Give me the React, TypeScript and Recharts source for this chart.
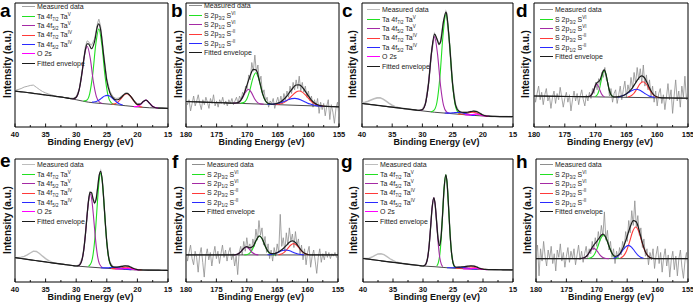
import React from 'react';
import { LineChart, Line, XAxis, YAxis, ReferenceArea } from 'recharts';

type Pt = [number, number];

// axis ticks
const TA_TICKS = [40, 35, 30, 25, 20, 15];
const TA_MINOR = [37.5, 32.5, 27.5, 22.5, 17.5];
const S_TICKS = [180, 175, 170, 165, 160, 155];
const S_MINOR = [177.5, 172.5, 167.5, 162.5, 157.5];

// ---------- panel a (Ta 4f) ----------
const aBg: Pt[] = [[40, 29], [38, 27.8], [36, 26.5], [34, 25.2], [32, 23.8], [30, 22], [28, 20], [26, 19], [24, 18.2], [22, 17.2], [20, 16.2], [18, 15.5], [16, 15.2], [15, 15]];
const aMeasured: Pt[] = [[40, 29.5], [39.5, 30.2], [39, 31], [38.5, 32.2], [38, 32.8], [37.5, 33.5], [37, 33.8], [36.5, 32], [36, 30.2], [35.5, 28.6], [35, 27.5], [34.5, 26.6], [34, 25.9], [33.5, 25], [33, 24.6], [32.5, 24.2], [32, 23.9], [31.5, 23.5], [31, 23.3], [30.5, 23.2], [30, 24.5], [29.5, 31], [29, 47], [28.5, 65], [28.2, 69.5], [28, 69], [27.75, 67], [27.5, 66], [27, 71], [26.5, 84], [26.3, 87], [26, 81], [25.5, 59], [25, 39], [24.5, 29], [24, 24.5], [23.5, 23], [23, 23.4], [22.5, 25.3], [22, 27.5], [21.5, 27.4], [21, 24.6], [20.5, 21.3], [20, 19], [19.5, 19], [19, 21], [18.5, 21.6], [18, 19.2], [17.5, 16.6], [17, 15.6], [16.5, 15.3], [16, 15.2], [15.5, 15.1], [15, 15]];
const aEnvelope: Pt[] = [[40, 29], [39, 28.4], [38, 27.8], [37, 27.1], [36, 26.5], [35, 25.8], [34, 25.2], [33, 24.5], [32, 23.8], [31, 23], [30.5, 22.8], [30, 24], [29.5, 30.3], [29, 45.4], [28.5, 62.4], [28.2, 67], [28, 67], [27.5, 63.1], [27, 68.9], [26.5, 81.6], [26.3, 83.1], [26, 78.2], [25.5, 57], [25, 37.4], [24.5, 27.6], [24, 23.6], [23.5, 21.9], [23, 22.4], [22.5, 24.6], [22, 26.8], [21.7, 27.1], [21.5, 26.7], [21, 24.1], [20.5, 20.6], [20, 18.3], [19.5, 18.45], [19, 20.7], [18.6, 21.65], [18.5, 21.5], [18, 19.1], [17.5, 16.5], [17, 15.5], [16.5, 15.25], [16, 15.2], [15, 15]];
const aGreen: Pt[] = [[28.8, 20.9], [28.3, 21.6], [27.8, 26.8], [27.3, 42.6], [26.8, 66.6], [26.3, 79.1], [25.8, 66.1], [25.3, 41.6], [24.8, 25.3], [24.3, 19.6], [23.8, 18.2]];
const aPurple: Pt[] = [[30.7, 22.8], [30.2, 23.1], [29.7, 26.8], [29.2, 38.3], [28.7, 56.1], [28.2, 65.1], [27.7, 55.3], [27.2, 36.7], [26.7, 24.5], [26.2, 20], [25.7, 18.9]];
const aRed: Pt[] = [[24.2, 18.3], [23.7, 18.7], [23.2, 20.1], [22.7, 22.75], [22.2, 25.7], [21.7, 26.85], [21.2, 25.2], [20.7, 21.75], [20.2, 18.6], [19.7, 16.8], [19.2, 16]];
const aBlue: Pt[] = [[27.4, 20.1], [26.9, 20.3], [26.4, 21.4], [25.9, 23.1], [25.4, 24.9], [24.9, 25.5], [24.4, 24.5], [23.9, 22.4], [23.4, 20.2], [22.9, 18.6], [22.4, 17.7]];
const aMagenta: Pt[] = [[20.6, 16.4], [20.1, 16.45], [19.6, 17.5], [19.1, 20.05], [18.6, 21.65], [18.1, 19.7], [17.6, 16.95], [17.1, 15.65], [16.6, 15.25]];

// ---------- panel c (Ta 4f) ----------
const cBg: Pt[] = [[40, 19], [38, 17.8], [36, 16.6], [34, 15.4], [32, 14.2], [30, 13], [28, 11.9], [26, 11.1], [24, 10.3], [22, 9.5], [20, 8.9], [18, 8.5], [15, 8.3]];
const cMeasured: Pt[] = [[40, 19.5], [39.5, 20], [39, 20.8], [38.5, 21.8], [38, 22.8], [37.5, 23.5], [37, 23.6], [36.5, 22.5], [36, 20.8], [35.5, 19], [35, 17.6], [34.5, 16.4], [34, 15.7], [33.5, 15.1], [33, 14.8], [32.5, 14.5], [32, 14.2], [31.5, 13.9], [31, 13.6], [30.5, 13.4], [30, 14.1], [29.5, 18.9], [29, 34.5], [28.5, 59.8], [28, 74.8], [27.5, 69.6], [27.25, 66.8], [27, 68.4], [26.5, 85.2], [26.1, 92.8], [26, 91.5], [25.5, 66.6], [25, 34.8], [24.5, 17.7], [24, 12.9], [23.5, 11.9], [23, 11.7], [22.5, 11.9], [22, 12.4], [21.5, 12.8], [21, 12.4], [20.5, 11.1], [20, 9.8], [19.5, 9], [19, 8.8], [18.5, 8.6], [18, 8.5], [17, 8.4], [16, 8.35], [15, 8.3]];
const cEnvelope: Pt[] = [[40, 19], [39, 18.4], [38, 17.8], [37, 17.2], [36, 16.6], [35, 16], [34, 15.4], [33, 14.8], [32, 14.2], [31, 13.6], [30.5, 13.4], [30, 14], [29.5, 18.8], [29, 34.4], [28.5, 59.7], [28, 74.9], [27.5, 69.8], [27.25, 66.7], [27, 68.5], [26.5, 85.3], [26.1, 92.75], [26, 91.4], [25.5, 66.75], [25, 34.7], [24.5, 17.6], [24, 12.85], [23.5, 11.9], [23, 11.74], [22.5, 11.9], [22, 12.37], [21.5, 12.78], [21, 12.43], [20.5, 11.09], [20, 9.72], [19.5, 9.02], [19, 8.74], [18, 8.5], [17, 8.4], [16, 8.35], [15, 8.3]];
const cGreen: Pt[] = [[28.6, 12.2], [28.1, 13.35], [27.6, 19.75], [27.1, 40.35], [26.6, 73.35], [26.1, 91.15], [25.6, 72.95], [25.1, 39.55], [24.6, 18.55], [24.1, 11.75], [23.6, 10.3]];
const cPurple: Pt[] = [[30.5, 13.4], [30, 14], [29.5, 18.8], [29, 34.4], [28.5, 59.5], [28, 72.9], [27.5, 59], [27, 33.5], [26.5, 17.4], [26, 12.1], [25.5, 11]];
const cRed: Pt[] = [[24.1, 10.4], [23.6, 10.36], [23.1, 10.57], [22.6, 11.1], [22.1, 11.69], [21.6, 11.85], [21.1, 11.29], [20.6, 10.3], [20.1, 9.42], [19.6, 8.91], [19.1, 8.65]];
const cBlue: Pt[] = [[26.3, 11.27], [25.8, 11.2], [25.3, 11.29], [24.8, 11.51], [24.3, 11.72], [23.8, 11.7], [23.3, 11.32], [22.8, 10.71], [22.3, 10.09], [21.8, 9.6], [21.3, 9.37]];
const cMagenta: Pt[] = [[23, 9.9], [22.5, 9.75], [22, 9.8], [21.5, 10.2], [21, 10.4], [20.5, 9.9], [20, 9.2], [19.5, 8.85], [19, 8.7]];

// ---------- panel e (Ta 4f) ----------
const eBg: Pt[] = [[40, 19.8], [38, 18.4], [36, 17], [34, 15.6], [32, 14.3], [30, 13], [28, 12.2], [26, 11.5], [24, 10.8], [22, 10.2], [20, 9.8], [18, 9.6], [15, 9.5]];
const eMeasured: Pt[] = [[40, 19.9], [39.5, 19.8], [39, 20.1], [38.5, 20.8], [38, 22], [37.5, 23.6], [37, 25.1], [36.5, 24.8], [36, 23.2], [35.5, 21], [35, 19], [34.5, 17.4], [34, 16.2], [33.5, 15.4], [33, 15], [32.5, 14.6], [32, 14.3], [31.5, 13.9], [31, 13.6], [30.5, 13.3], [30, 13.1], [29.5, 13.8], [29, 19.4], [28.75, 26.9], [28.5, 38.6], [28.25, 53], [28, 65.8], [27.75, 73.2], [27.5, 72.9], [27.25, 67.5], [27, 64.4], [26.75, 67.4], [26.5, 76.8], [26.25, 86.9], [26, 90.3], [25.75, 83.1], [25.5, 67.4], [25.25, 48.3], [25, 32.6], [24.75, 21.8], [24.5, 16.1], [24, 12.5], [23.5, 12.2], [23, 12.4], [22.5, 12.8], [22, 13.2], [21.5, 13], [21, 11.9], [20.5, 10.8], [20, 10.2], [19.5, 9.9], [19, 9.8], [18, 9.7], [17, 9.6], [16, 9.55], [15, 9.5]];
const eEnvelope: Pt[] = [[40, 19.8], [39, 19.1], [38, 18.4], [37, 17.7], [36, 17], [35, 16.3], [34, 15.6], [33, 14.95], [32, 14.3], [31, 13.6], [30.5, 13.3], [30, 13], [29.5, 13.7], [29, 19.2], [28.75, 26.7], [28.5, 38.3], [28.25, 52.6], [28, 65.5], [27.75, 72.8], [27.5, 72.7], [27.25, 67.7], [27, 64.2], [26.75, 67.1], [26.5, 76.45], [26.25, 86.5], [26, 89.95], [25.75, 82.9], [25.5, 67.2], [25.25, 48.5], [25, 32.4], [24.75, 21.65], [24.5, 15.9], [24, 12.35], [23.5, 12.15], [23, 12.37], [22.5, 12.74], [22, 13.15], [21.5, 12.95], [21, 11.87], [20.5, 10.73], [20, 10.12], [19.5, 9.87], [19, 9.75], [18, 9.65], [17, 9.6], [16, 9.55], [15, 9.5]];
const eGreen: Pt[] = [[28, 12.6], [27.5, 16.2], [27.25, 22], [27, 32.7], [26.75, 48.7], [26.5, 67.25], [26.25, 82.6], [26, 88.5], [25.75, 82.4], [25.5, 66.9], [25.25, 48.2], [25, 32], [24.75, 21.1], [24.5, 15.15], [24, 11.2]];
const ePurple: Pt[] = [[29.7, 13], [29.2, 15.7], [28.95, 20.2], [28.7, 28.5], [28.45, 40.8], [28.2, 55.15], [27.95, 67], [27.7, 71.5], [27.45, 66.8], [27.2, 54.85], [26.95, 40.4], [26.7, 27.9], [26.45, 19.4], [26.2, 14.75], [25.7, 11.7]];
const eRed: Pt[] = [[24.3, 10.94], [23.8, 10.9], [23.3, 11.05], [22.8, 11.42], [22.3, 11.84], [21.8, 11.95], [21.3, 11.54], [20.8, 10.87], [20.3, 10.3], [19.8, 9.95], [19.3, 9.79]];
const eBlue: Pt[] = [[26, 11.55], [25.5, 11.46], [25, 11.49], [24.5, 11.68], [24, 11.86], [23.5, 11.85], [23, 11.56], [22.5, 11.08], [22, 10.59], [21.5, 10.26], [21, 10.05]];
const eMagenta: Pt[] = [[23.6, 10.7], [23.1, 10.59], [22.6, 10.65], [22.1, 10.96], [21.6, 11.1], [21.1, 10.71], [20.6, 10.15], [20.1, 9.9], [19.6, 9.8]];

// ---------- panel g (Ta 4f) ----------
const gBg: Pt[] = [[40, 19.2], [38, 17.9], [36, 16.6], [34, 15.4], [32, 14.2], [30, 13], [28, 12.4], [26, 11.6], [24, 11], [22, 10.5], [20, 10.2], [18, 10], [15, 9.8]];
const gMeasured: Pt[] = [[40, 19.3], [39.5, 19.1], [39, 19.4], [38.5, 20.3], [38, 21.6], [37.5, 22.8], [37, 23], [36.5, 22.2], [36, 20.6], [35.5, 18.9], [35, 17.5], [34.5, 16.4], [34, 15.7], [33.5, 15.2], [33, 14.9], [32.5, 14.5], [32, 14.2], [31.5, 13.9], [31, 13.6], [30.5, 13.3], [30, 13.1], [29.75, 13.5], [29.5, 14.9], [29.25, 19.3], [29, 28.6], [28.75, 43.5], [28.5, 59.6], [28.2, 68.8], [28, 64.4], [27.75, 50.6], [27.5, 36.1], [27.25, 29.9], [27, 36.4], [26.75, 54.2], [26.5, 75.3], [26.2, 87.5], [26, 81.6], [25.75, 62.3], [25.5, 40.1], [25.25, 24.2], [25, 16], [24.75, 13], [24.5, 12.2], [24, 12.1], [23.5, 12.4], [23, 12.6], [22.5, 12.9], [22, 13.1], [21.5, 13], [21, 12.2], [20.5, 11.1], [20, 10.5], [19.5, 10.2], [19, 10.1], [18, 10], [17, 9.95], [16, 9.9], [15, 9.8]];
const gEnvelope: Pt[] = [[40, 19.2], [39, 18.55], [38, 17.9], [37, 17.25], [36, 16.6], [35, 16], [34, 15.4], [33, 14.8], [32, 14.2], [31, 13.6], [30.5, 13.3], [30, 13], [29.75, 13.4], [29.5, 14.75], [29.25, 19], [29, 28.3], [28.75, 43.25], [28.5, 59.35], [28.2, 68.5], [28, 64.2], [27.75, 50.3], [27.5, 35.8], [27.25, 29.6], [27, 36.1], [26.75, 53.9], [26.5, 75], [26.2, 87.2], [26, 81.3], [25.75, 62], [25.5, 39.9], [25.25, 24], [25, 15.8], [24.75, 12.8], [24.5, 12], [24, 12.03], [23.5, 12.3], [23, 12.57], [22.5, 12.87], [22, 13.09], [21.5, 12.93], [21, 12.1], [20.5, 11.07], [20, 10.44], [19.5, 10.2], [19, 10.1], [18, 10], [17, 9.95], [16, 9.9], [15, 9.8]];
const gGreen: Pt[] = [[27.7, 13.05], [27.45, 15.5], [27.2, 22.3], [26.95, 36.5], [26.7, 57.7], [26.45, 78.4], [26.2, 87.2], [25.95, 78.2], [25.7, 57.3], [25.45, 35.95], [25.2, 21.55], [24.95, 14.6], [24.7, 12]];
const gPurple: Pt[] = [[29.7, 13.5], [29.45, 15.35], [29.2, 20.35], [28.95, 30.9], [28.7, 46.65], [28.45, 61.95], [28.2, 68.45], [27.95, 61.75], [27.7, 46.25], [27.45, 30.4], [27.2, 19.7], [26.95, 14.5], [26.7, 12.5]];
const gRed: Pt[] = [[24.5, 11.19], [24, 11.15], [23.5, 11.3], [23, 11.67], [22.5, 12.14], [22, 12.3], [21.5, 11.94], [21, 11.27], [20.5, 10.7], [20, 10.35], [19.5, 10.19]];
const gBlue: Pt[] = [[26, 11.64], [25.5, 11.58], [25, 11.63], [24.5, 11.76], [24, 11.88], [23.5, 11.85], [23, 11.58], [22.5, 11.21], [22, 10.83], [21.5, 10.54], [21, 10.34]];
const gMagenta: Pt[] = [[23.3, 10.65], [22.8, 10.59], [22.3, 10.67], [21.8, 10.99], [21.3, 11.2], [20.8, 10.89], [20.3, 10.42], [19.8, 10.19], [19.3, 10.1]];

// ---------- S 2p panels: measured counts every 0.25 eV from 180 down to 155 ----------
const S_START = 180;
const S_STEP = 0.25;

const bCounts = [
  24, 18, 22, 13, 19, 25, 17, 21, 26, 19,
  14, 22, 18, 24, 20, 15, 23, 19, 26, 17,
  21, 16, 22, 19, 24, 18, 21, 17, 22, 19,
  23, 18, 21, 24, 19, 25, 22, 28, 26, 33,
  31, 42, 38, 52, 45, 58, 44, 50, 36, 41,
  26, 30, 21, 24, 16, 21, 19, 23, 15, 20,
  24, 18, 25, 19, 27, 22, 29, 24, 33, 27,
  36, 30, 38, 31, 41, 29, 36, 28, 33, 24,
  29, 21, 25, 16, 22, 17, 23, 11, 20, 14,
  19, 9, 17, 22, 6, 18, 12, 3, 15, 20,
  8,
];
const bBg: Pt[] = [[180, 20.55], [155, 16.3]];
const bEnvelope: Pt[] = [[180, 20.55], [178, 20.2], [176, 19.85], [174, 19.55], [172.5, 19.25], [172, 19.3], [171.5, 19.7], [171, 21.85], [170.5, 26.95], [170, 34.35], [169.5, 41.65], [169, 46.5], [168.5, 45.7], [168, 37.2], [167.5, 27.1], [167, 20.95], [166.5, 18.85], [166, 18.5], [165.5, 18.7], [165, 19.3], [164.5, 20.4], [164, 22.35], [163.5, 25.1], [163, 28.5], [162.5, 31.65], [162, 33.85], [161.5, 34], [161, 32.2], [160.5, 28.8], [160, 25.05], [159.5, 21.65], [159, 19.3], [158.5, 17.95], [158, 17.2], [157.5, 16.85], [157, 16.65], [156, 16.45], [155, 16.3]];
const bGreen: Pt[] = [[171.1, 19.15], [170.6, 19.65], [170.1, 22.25], [169.6, 29.15], [169.1, 38.85], [168.6, 43.8], [168.1, 38.65], [167.6, 28.75], [167.1, 21.7], [166.6, 18.95], [166.1, 18.25]];
const bPurple: Pt[] = [[172.3, 19.27], [171.8, 19.35], [171.3, 20.2], [170.8, 23.2], [170.3, 27.9], [169.8, 30.4], [169.3, 27.7], [168.8, 22.8], [168.3, 19.7], [167.8, 18.65], [167.3, 18.37]];
const bRed: Pt[] = [[165.5, 18.2], [165, 18.3], [164.5, 18.7], [164, 19.65], [163.5, 21.25], [163, 23.65], [162.5, 26.15], [162, 28.3], [161.5, 29], [161, 28.1], [160.5, 25.85], [160, 23.15], [159.5, 20.55], [159, 18.75], [158.5, 17.7], [158, 17.1], [157.5, 16.8]];
const bBlue: Pt[] = [[166.7, 18.36], [166.2, 18.36], [165.7, 18.47], [165.2, 18.81], [164.7, 19.34], [164.2, 20.15], [163.7, 21.2], [163.2, 22.18], [162.7, 22.9], [162.2, 23.1], [161.7, 22.7], [161.2, 21.83], [160.7, 20.65], [160.2, 19.45], [159.7, 18.49], [159.2, 17.76], [158.7, 17.27], [158.2, 16.96], [157.7, 16.81]];

const dCounts = [
  30, 20, 27, 33, 22, 28, 18, 26, 31, 21,
  25, 15, 24, 29, 19, 27, 22, 32, 24, 16,
  23, 28, 20, 26, 13, 22, 29, 21, 27, 18,
  25, 30, 22, 17, 26, 21, 28, 23, 31, 27,
  36, 30, 39, 34, 44, 40, 48, 38, 36, 25,
  31, 20, 27, 30, 19, 26, 33, 22, 30, 37,
  24, 34, 28, 40, 31, 44, 35, 48, 38, 47,
  36, 50, 33, 42, 30, 38, 25, 33, 20, 29,
  17, 27, 31, 19, 26, 14, 24, 35, 22, 30,
  11, 25, 38, 21, 29, 16, 33, 24, 41, 22,
  30,
];
const dBg: Pt[] = [[180, 25], [155, 23.2]];
const dEnvelope: Pt[] = [[180, 25], [176, 24.7], [172, 24.45], [171.5, 24.42], [171, 24.7], [170.75, 25.47], [170.5, 27.36], [170.25, 30.56], [170, 33.9], [169.75, 35.87], [169.5, 36.62], [169.25, 38.29], [169, 41.92], [168.75, 45.44], [168.6, 45.99], [168.5, 45.42], [168.25, 41.04], [168, 34.62], [167.75, 29.21], [167.5, 26.05], [167.25, 24.7], [167, 24.28], [166.5, 24.27], [166, 24.63], [165.5, 25.41], [165, 26.78], [164.5, 28.87], [164, 31.83], [163.5, 35.66], [163, 39.49], [162.75, 40.76], [162.5, 41.22], [162.25, 40.7], [162, 39.17], [161.5, 34.19], [161, 29.06], [160.5, 25.7], [160, 24.18], [159.5, 23.67], [159, 23.5], [157, 23.35], [155, 23.2]];
const dGreen: Pt[] = [[170.1, 24.54], [169.85, 25.25], [169.6, 27.18], [169.35, 31.25], [169.1, 37.29], [168.85, 43.18], [168.6, 45.7], [168.35, 43.14], [168.1, 37.21], [167.85, 31.13], [167.6, 27.02], [167.35, 25.05], [167.1, 24.32]];
const dPurple: Pt[] = [[171.05, 24.61], [170.8, 25.24], [170.55, 26.89], [170.3, 29.8], [170.05, 32.98], [169.8, 34.4], [169.55, 32.94], [169.3, 29.71], [169.05, 26.77], [168.8, 25.08], [168.55, 24.41]];
const dRed: Pt[] = [[164.8, 24.17], [164.3, 24.96], [163.8, 27.02], [163.3, 30.7], [162.8, 34.74], [162.3, 36.53], [161.8, 34.67], [161.3, 30.57], [160.8, 26.82], [160.3, 24.69], [159.8, 23.83]];
const dBlue: Pt[] = [[166.4, 24.29], [165.9, 24.72], [165.4, 25.57], [164.9, 26.92], [164.4, 28.54], [163.9, 29.88], [163.4, 30.4], [162.9, 29.81], [162.4, 28.4], [161.9, 26.72], [161.4, 25.3], [160.9, 24.38], [160.4, 23.88]];

const fCounts = [
  26, 17, 24, 30, 19, 14, 25, 20, 8, 22,
  28, 16, 4, 21, 27, 18, 24, 13, 22, 29,
  19, 25, 15, 23, 30, 20, 26, 17, 24, 28,
  18, 23, 13, 21, 6, 24, 29, 22, 33, 25,
  36, 27, 31, 24, 35, 29, 43, 34, 50, 38,
  44, 30, 37, 24, 31, 19, 26, 17, 28, 21,
  31, 24, 55, 29, 36, 25, 40, 30, 44, 33,
  39, 28, 41, 30, 35, 22, 30, 18, 27, 14,
  24, 29, 12, 21, 26, 17, 7, 20, 27, 16,
  23, 18, 25, 20, 24, 19, 23, 21, 24, 20,
  22,
];
const fBg: Pt[] = [[180, 22], [155, 22]];
const fEnvelope: Pt[] = [[180, 22], [172.5, 22], [172, 22.09], [171.5, 22.64], [171, 24.49], [170.5, 27.42], [170, 28.73], [169.5, 27.82], [169, 28.8], [168.5, 33.49], [168, 37.29], [167.9, 37.41], [167.5, 35.39], [167, 29.53], [166.5, 24.82], [166, 22.99], [165.5, 23.01], [165, 23.88], [164.5, 25.32], [164, 27.29], [163.5, 29.76], [163, 32.25], [162.5, 33.41], [162, 32.09], [161.5, 28.85], [161, 25.5], [160.5, 23.32], [160, 22.37], [159.5, 22.07], [159, 22], [155, 22]];
const fGreen: Pt[] = [[170.4, 22.06], [169.9, 22.43], [169.4, 24.08], [168.9, 28.33], [168.4, 34.32], [167.9, 37.4], [167.4, 34.32], [166.9, 28.33], [166.4, 24.08], [165.9, 22.43], [165.4, 22.06]];
const fPurple: Pt[] = [[172.1, 22.06], [171.6, 22.46], [171.1, 23.99], [170.6, 26.84], [170.1, 28.5], [169.6, 26.84], [169.1, 23.99], [168.6, 22.46], [168.1, 22.06]];
const fRed: Pt[] = [[164.8, 22.19], [164.3, 22.78], [163.8, 24.29], [163.3, 26.96], [162.8, 29.88], [162.3, 31.2], [161.8, 29.88], [161.3, 26.96], [160.8, 24.29], [160.3, 22.78], [159.8, 22.19]];
const fBlue: Pt[] = [[166.6, 22.1], [166.1, 22.3], [165.6, 22.77], [165.1, 23.58], [164.6, 24.65], [164.1, 25.61], [163.6, 26], [163.1, 25.61], [162.6, 24.65], [162.1, 23.58], [161.6, 22.77], [161.1, 22.3], [160.6, 22.1]];

const hCounts = [
  22, 30, 5, 27, 17, 33, 21, 13, 26, 19,
  29, 15, 23, 9, 26, 20, 31, 17, 24, 12,
  21, 28, 16, 25, 19, 27, 14, 22, 30, 18,
  25, 16, 23, 29, 20, 27, 23, 33, 26, 36,
  29, 41, 33, 46, 37, 57, 34, 42, 26, 33,
  20, 27, 15, 25, 19, 28, 22, 33, 27, 41,
  33, 50, 40, 58, 46, 66, 45, 54, 38, 44,
  28, 35, 21, 27, 14, 24, 18, 27, 11, 22,
  29, 15, 24, 8, 20, 27, 13, 22, 4, 18,
  25, 10, 21, 5, 19, 26, 12, 3, 17, 24,
  10,
];
const hBg: Pt[] = [[180, 19], [155, 19]];
const hEnvelope: Pt[] = [[180, 19], [173.5, 19], [173, 19.01], [172.5, 19.14], [172, 19.84], [171.5, 22.12], [171, 26.12], [170.5, 30], [170, 32.97], [169.5, 36.52], [169, 38.89], [168.9, 38.82], [168.5, 36.08], [168, 29.25], [167.5, 23.34], [167, 20.91], [166.5, 21.53], [166, 24.62], [165.5, 30], [165, 37.22], [164.5, 44.87], [164, 49.85], [163.5, 48.77], [163, 41.38], [162.5, 31.76], [162, 24.43], [161.5, 20.73], [161, 19.39], [160.5, 19.07], [160, 19], [155, 19]];
const hGreen: Pt[] = [[171.4, 19.15], [170.9, 19.84], [170.4, 22.3], [169.9, 27.79], [169.4, 34.8], [168.9, 38.2], [168.4, 34.8], [167.9, 27.79], [167.4, 22.3], [166.9, 19.84], [166.4, 19.15]];
const hPurple: Pt[] = [[173, 19.01], [172.5, 19.14], [172, 19.84], [171.5, 22.02], [171, 25.51], [170.5, 27.4], [170, 25.51], [169.5, 22.02], [169, 19.84], [168.5, 19.14], [168, 19.01]];
const hRed: Pt[] = [[166.1, 19.54], [165.6, 21.18], [165.1, 25.4], [164.6, 32.85], [164.1, 41.02], [163.6, 44.7], [163.1, 41.02], [162.6, 32.85], [162.1, 25.4], [161.6, 21.18], [161.1, 19.54]];
const hBlue: Pt[] = [[167.3, 19.33], [166.8, 20.18], [166.3, 22.1], [165.8, 25.21], [165.3, 28.41], [164.8, 29.8], [164.3, 28.41], [163.8, 25.21], [163.3, 22.1], [162.8, 20.18], [162.3, 19.33]];

// legend labels: [text, subscript, text, superscript]
const TA_LABELS = [
  ['Measured data'],
  ['Ta 4f', '7/2', ' Ta', 'V'],
  ['Ta 4f', '5/2', ' Ta', 'V'],
  ['Ta 4f', '7/2', ' Ta', 'IV'],
  ['Ta 4f', '5/2', ' Ta', 'IV'],
  ['O 2s'],
  ['Fitted envelope'],
];
const S_LABELS = [
  ['Measured data'],
  ['S 2p', '3/2', ' S', 'VI'],
  ['S 2p', '1/2', ' S', 'VI'],
  ['S 2p', '3/2', ' S', '-II'],
  ['S 2p', '1/2', ' S', '-II'],
  ['Fitted envelope'],
];

const GREEN = '#22e022';
const PURPLE = '#a52aa5';
const RED = '#ff3a3a';
const BLUE = '#2a2aff';
const MAGENTA = '#ff00ff';
const BLACK = '#1c1c1c';
const FONT = '"Liberation Sans", Arial, sans-serif';

const fromCounts = (vals: number[]): Pt[] => vals.map((v, i) => [S_START - i * S_STEP, v]);
const toRows = (pts: Pt[]) => pts.map(([x, y]) => ({ x, y }));

type PanelCfg = {
  letter: string;
  kind: 'ta' | 's';
  x: number; y: number; w: number; h: number;
  letterX: number; letterY: number; yLabelX: number; legX: number; legY: number;
  measured: Pt[]; measuredColor: string; measuredWidth: number;
  bg: Pt[]; env: Pt[]; comps: Pt[][];
};

const panels: PanelCfg[] = [
  { letter: 'a', kind: 'ta', x: 14, y: 2, w: 153, h: 124, letterX: 0, letterY: 0, yLabelX: 7, legX: 22, legY: 7, measured: aMeasured, measuredColor: '#a3a3a3', measuredWidth: 0.9, bg: aBg, env: aEnvelope, comps: [aGreen, aPurple, aRed, aBlue, aMagenta] },
  { letter: 'b', kind: 's', x: 185, y: 2, w: 153, h: 124, letterX: 171, letterY: 0, yLabelX: 178, legX: 189, legY: 6, measured: fromCounts(bCounts), measuredColor: '#8e8e8e', measuredWidth: 0.8, bg: bBg, env: bEnvelope, comps: [bGreen, bPurple, bRed, bBlue] },
  { letter: 'c', kind: 'ta', x: 361, y: 2, w: 151, h: 124, letterX: 342, letterY: 0, yLabelX: 352, legX: 367, legY: 10, measured: cMeasured, measuredColor: '#bdbdbd', measuredWidth: 1.6, bg: cBg, env: cEnvelope, comps: [cGreen, cPurple, cRed, cBlue, cMagenta] },
  { letter: 'd', kind: 's', x: 533, y: 2, w: 154, h: 124, letterX: 516, letterY: 0, yLabelX: 525, legX: 540, legY: 10, measured: fromCounts(dCounts), measuredColor: '#8e8e8e', measuredWidth: 0.8, bg: dBg, env: dEnvelope, comps: [dGreen, dPurple, dRed, dBlue] },
  { letter: 'e', kind: 'ta', x: 14, y: 158, w: 153, h: 123, letterX: 0, letterY: 150, yLabelX: 7, legX: 22, legY: 165, measured: eMeasured, measuredColor: '#bdbdbd', measuredWidth: 1.4, bg: eBg, env: eEnvelope, comps: [eGreen, ePurple, eRed, eBlue, eMagenta] },
  { letter: 'f', kind: 's', x: 185, y: 158, w: 152, h: 123, letterX: 172, letterY: 151, yLabelX: 178, legX: 192, legY: 165, measured: fromCounts(fCounts), measuredColor: '#8e8e8e', measuredWidth: 0.8, bg: fBg, env: fEnvelope, comps: [fGreen, fPurple, fRed, fBlue] },
  { letter: 'g', kind: 'ta', x: 362, y: 158, w: 150, h: 123, letterX: 341, letterY: 151, yLabelX: 353, legX: 365, legY: 165, measured: gMeasured, measuredColor: '#bdbdbd', measuredWidth: 1.4, bg: gBg, env: gEnvelope, comps: [gGreen, gPurple, gRed, gBlue, gMagenta] },
  { letter: 'h', kind: 's', x: 535, y: 158, w: 152, h: 123, letterX: 516, letterY: 151, yLabelX: 527, legX: 540, legY: 165, measured: fromCounts(hCounts), measuredColor: '#8e8e8e', measuredWidth: 0.8, bg: hBg, env: hEnvelope, comps: [hGreen, hPurple, hRed, hBlue] },
];

const ML = 24, MR = 10, MT = 4, XH = 30;

function LegendBlock({ p }: { p: PanelCfg }) {
  const labels = p.kind === 'ta' ? TA_LABELS : S_LABELS;
  const colors = p.kind === 'ta'
    ? [p.measuredColor, GREEN, PURPLE, RED, BLUE, MAGENTA, BLACK]
    : [p.measuredColor, GREEN, PURPLE, RED, BLUE, BLACK];
  return (
    <>
      {labels.map((lab, i) => (
        <div key={i} style={{ position: 'absolute', left: p.legX, top: p.legY + i * 9.4 - 4.7, height: 9.4, display: 'flex', alignItems: 'center', whiteSpace: 'nowrap', fontFamily: FONT, fontSize: 7, color: '#222' }}>
          <span style={{ display: 'inline-block', width: 13, height: 0, borderTop: `1.2px solid ${colors[i]}`, marginRight: 2 }} />
          <span>
            {lab[0]}
            {lab[1] && <sub style={{ fontSize: 4.5, verticalAlign: '-1.5px' }}>{lab[1]}</sub>}
            {lab[2]}
            {lab[3] && <sup style={{ fontSize: 4.5, verticalAlign: '3px' }}>{lab[3]}</sup>}
          </span>
        </div>
      ))}
    </>
  );
}

function Panel({ p }: { p: PanelCfg }) {
  const isTa = p.kind === 'ta';
  const domain: [number, number] = isTa ? [15, 40] : [155, 180];
  const major = isTa ? TA_TICKS : S_TICKS;
  const ticks = [...major, ...(isTa ? TA_MINOR : S_MINOR)].sort((a, b) => a - b);
  const axisY = MT + p.h;
  const renderTick = (props: any) => {
    const { x, payload } = props;
    const isMajor = major.includes(payload.value);
    return (
      <g>
        <line x1={x} x2={x} y1={axisY} y2={axisY - (isMajor ? 3.5 : 2)} stroke="#000" strokeWidth={0.9} />
        {isMajor && (
          <text x={x} y={axisY + 9.5} textAnchor="middle" fontFamily={FONT} fontWeight="bold" fontSize={7.5} fill="#111">
            {payload.value}
          </text>
        )}
      </g>
    );
  };
  const compColors = [GREEN, PURPLE, RED, BLUE, MAGENTA];
  const bottom = p.y + p.h;
  return (
    <>
      <div style={{ position: 'absolute', left: p.x - ML + 0.5, top: p.y - MT + 0.5 }}>
        <LineChart width={p.w + ML + MR} height={p.h + MT + XH} margin={{ top: MT, right: MR, bottom: 0, left: ML }}>
          <XAxis type="number" dataKey="x" domain={domain} reversed ticks={ticks} interval={0} tickSize={0} tickMargin={0} axisLine={false} tickLine={false} height={XH} tick={renderTick} allowDataOverflow />
          <YAxis type="number" domain={[0, 100]} hide allowDataOverflow />
          <ReferenceArea x1={domain[0]} x2={domain[1]} y1={0} y2={100} fill="none" fillOpacity={0} stroke="#000" strokeWidth={1} />
          <Line data={toRows(p.measured)} dataKey="y" type="linear" stroke={p.measuredColor} strokeWidth={p.measuredWidth} dot={false} isAnimationActive={false} />
          <Line data={toRows(p.bg)} dataKey="y" type="monotone" stroke={BLACK} strokeWidth={0.8} dot={false} isAnimationActive={false} />
          {p.comps.map((c, i) => (
            <Line key={i} data={toRows(c)} dataKey="y" type="monotone" stroke={compColors[i]} strokeWidth={1.1} dot={false} isAnimationActive={false} />
          ))}
          <Line data={toRows(p.env)} dataKey="y" type="monotone" stroke={BLACK} strokeWidth={1.2} dot={false} isAnimationActive={false} />
        </LineChart>
      </div>
      <div style={{ position: 'absolute', left: p.letterX, top: p.letterY, fontFamily: FONT, fontWeight: 'bold', fontSize: 19, lineHeight: 'normal', color: '#000' }}>{p.letter}</div>
      <div style={{ position: 'absolute', left: p.yLabelX, top: p.y + p.h / 2, transform: 'translate(-50%, -50%) rotate(-90deg)', whiteSpace: 'nowrap', fontFamily: FONT, fontWeight: 'bold', fontSize: 10, color: '#111' }}>Intensity (a.u.)</div>
      <div style={{ position: 'absolute', left: p.x, width: p.w, top: bottom + 12, textAlign: 'center', whiteSpace: 'nowrap', fontFamily: FONT, fontWeight: 'bold', fontSize: 9, lineHeight: '9px', color: '#111' }}>Binding Energy (eV)</div>
      <LegendBlock p={p} />
    </>
  );
}

export default function App() {
  return (
    <div style={{ position: 'absolute', left: 0, top: 0, width: 693, height: 305, background: '#fff', overflow: 'hidden' }}>
      {panels.map((p) => (
        <Panel key={p.letter} p={p} />
      ))}
    </div>
  );
}
